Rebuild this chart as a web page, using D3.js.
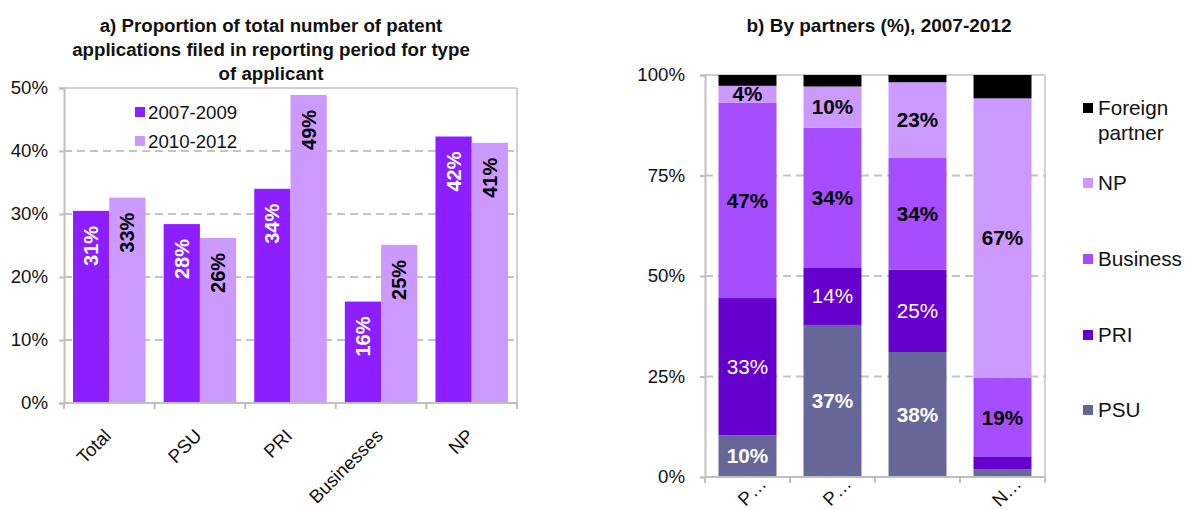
<!DOCTYPE html>
<html>
<head>
<meta charset="utf-8">
<script src="https://cdn.jsdelivr.net/npm/d3@7"></script>
<style>
  html, body { margin: 0; padding: 0; background: #fff; }
  svg { display: block; font-family: "Liberation Sans", Arial, sans-serif; }
</style>
</head>
<body>
<svg id="chart" width="1185" height="510"></svg>
<script>
// ---------- Panel a data ----------
const catsA = ["Total", "PSU", "PRI", "Businesses", "NP"];
const seriesA = ["2007-2009", "2010-2012"];
const vals2007_2009 = [30.5, 28.4, 34.0, 16.1, 42.3];
const vals2010_2012 = [32.6, 26.2, 48.9, 25.1, 41.3];
const ticksA = [0, 10, 20, 30, 40, 50];
const titleA = ["a) Proportion of total number of patent", "applications filed in reporting period for type", "of applicant"];

// ---------- Panel b data (raw shares, drawn as 100% stacks) ----------
const catsB = ["P\u2026", "P\u2026", "", "N\u2026"];
const seriesB = ["PSU", "PRI", "Business", "NP", "Foreign partner"];
const psuVals = [10, 37, 38, 1.8];
const priVals = [33, 14, 25, 3.0];
const businessVals = [47, 34, 34, 19];
const npVals = [4, 10, 23, 67];
const foreignVals = [2.6, 2.8, 2.2, 5.6];
const ticksB = [0, 25, 50, 75, 100];
const titleB = "b) By partners (%), 2007-2012";

const colA = { "2007-2009": "#8C1EFF", "2010-2012": "#CC99FF" };
const colB = { "PSU": "#666699", "PRI": "#6600CC", "Business": "#A64DFF", "NP": "#CC99FF", "Foreign partner": "#000000" };
const axisCol = "#BFBFBF";
const gridCol = "#C4C4C4";
const FONT = 18.67;

const svg = d3.select("#chart");

// ================= Panel a =================
{
  const left = 64, right = 517, top = 88, bottom = 403;
  const x = d3.scaleBand().domain(catsA).range([left, right]).paddingInner(0.2).paddingOuter(0.1);
  const xs = d3.scaleBand().domain(seriesA).range([0, x.bandwidth()]).padding(0);
  const y = d3.scaleLinear().domain([0, 50]).range([bottom, top]);
  const g = svg.append("g");

  // title
  g.append("text").attr("x", 271).attr("y", 32).attr("text-anchor", "middle")
    .style("font-weight", "bold").style("font-size", "18.7px").attr("fill", "#111")
    .selectAll("tspan").data(titleA).join("tspan")
    .attr("x", 271).attr("dy", (d, i) => i === 0 ? 0 : 24).text(d => d);

  // gridlines
  g.append("g").selectAll("line").data(ticksA.filter(t => t > 0 && t < 50)).join("line")
    .attr("x1", left).attr("x2", right).attr("y1", d => y(d)).attr("y2", d => y(d))
    .attr("stroke", gridCol).attr("stroke-width", 2).attr("stroke-dasharray", "8,5");
  // frame top & right
  g.append("line").attr("x1", left).attr("x2", right).attr("y1", y(50)).attr("y2", y(50))
    .attr("stroke", "#D0D0D0").attr("stroke-width", 2);
  g.append("line").attr("x1", right).attr("x2", right).attr("y1", top).attr("y2", bottom)
    .attr("stroke", "#D0D0D0").attr("stroke-width", 2);

  // y axis
  const ya = d3.axisLeft(y).tickValues(ticksA).tickFormat(d => d + "%").tickSize(5).tickPadding(11);
  const yg = g.append("g").attr("transform", `translate(${left},0)`).call(ya);
  yg.select(".domain").attr("stroke", axisCol).attr("stroke-width", 2);
  yg.selectAll(".tick line").attr("stroke", axisCol).attr("stroke-width", 2);
  yg.selectAll(".tick text").style("font-size", FONT + "px").attr("fill", "#111");

  // bars
  const rows = catsA.map((c, i) => ({ cat: c, vals: [vals2007_2009[i], vals2010_2012[i]] }));
  const grp = g.append("g").selectAll("g").data(rows).join("g")
    .attr("transform", d => `translate(${x(d.cat)},0)`);
  grp.selectAll("rect").data(d => d.vals.map((v, j) => ({ s: seriesA[j], v }))).join("rect")
    .attr("x", d => xs(d.s)).attr("width", xs.bandwidth())
    .attr("y", d => y(d.v)).attr("height", d => y(0) - y(d.v))
    .attr("fill", d => colA[d.s]);
  grp.selectAll("text").data(d => d.vals.map((v, j) => ({ s: seriesA[j], v }))).join("text")
    .attr("transform", d => `translate(${xs(d.s) + xs.bandwidth() / 2},${y(d.v) + 15}) rotate(-90)`)
    .attr("text-anchor", "end").attr("dominant-baseline", "central")
    .style("font-weight", "bold").style("font-size", "20px")
    .attr("fill", d => d.s === "2007-2009" ? "#fff" : "#000")
    .text(d => Math.round(d.v) + "%");

  // x axis
  g.append("line").attr("x1", left).attr("x2", right).attr("y1", bottom).attr("y2", bottom)
    .attr("stroke", axisCol).attr("stroke-width", 2);
  const bounds = d3.range(catsA.length + 1).map(i => left + i * x.step());
  g.append("g").selectAll("line").data(bounds).join("line")
    .attr("x1", d => d).attr("x2", d => d).attr("y1", bottom).attr("y2", bottom + 6)
    .attr("stroke", axisCol).attr("stroke-width", 2);
  g.append("g").selectAll("text").data(catsA).join("text")
    .attr("transform", d => `translate(${x(d) + x.bandwidth() / 2 + 3},${bottom + 34}) rotate(-45)`)
    .attr("text-anchor", "end").style("font-size", FONT + "px").attr("fill", "#111")
    .text(d => d);

  // legend
  const lg = g.append("g").selectAll("g").data(seriesA).join("g")
    .attr("transform", (d, i) => `translate(135,${112 + i * 29})`);
  lg.append("rect").attr("x", 0).attr("y", -5).attr("width", 10).attr("height", 10).attr("fill", d => colA[d]);
  lg.append("text").attr("x", 13).attr("dy", "0.35em").style("font-size", FONT + "px").attr("fill", "#111").text(d => d);
}

// ================= Panel b =================
{
  const left = 705, right = 1045, top = 75, bottom = 477;
  const idx = d3.range(catsB.length);
  const x = d3.scaleBand().domain(idx).range([left, right]).paddingInner(0.318).paddingOuter(0.159);
  const y = d3.scaleLinear().domain([0, 1]).range([bottom, top]);
  const g = svg.append("g");

  g.append("text").attr("x", 879).attr("y", 32).attr("text-anchor", "middle")
    .style("font-weight", "bold").style("font-size", "19px").attr("fill", "#111").text(titleB);

  const table = idx.map(i => ({
    i, "PSU": psuVals[i], "PRI": priVals[i], "Business": businessVals[i], "NP": npVals[i], "Foreign partner": foreignVals[i]
  }));
  const stacked = d3.stack().keys(seriesB).offset(d3.stackOffsetExpand)(table);

  // gridlines
  g.append("g").selectAll("line").data(ticksB.filter(t => t > 0 && t < 100)).join("line")
    .attr("x1", left).attr("x2", right).attr("y1", d => y(d / 100)).attr("y2", d => y(d / 100))
    .attr("stroke", gridCol).attr("stroke-width", 2).attr("stroke-dasharray", "8,5");
  g.append("line").attr("x1", left).attr("x2", right).attr("y1", top).attr("y2", top)
    .attr("stroke", "#D0D0D0").attr("stroke-width", 2);
  g.append("line").attr("x1", right).attr("x2", right).attr("y1", top).attr("y2", bottom)
    .attr("stroke", "#D0D0D0").attr("stroke-width", 2);

  const ya = d3.axisLeft(y).tickValues(ticksB.map(t => t / 100)).tickFormat(d => Math.round(d * 100) + "%").tickSize(5).tickPadding(15);
  const yg = g.append("g").attr("transform", `translate(${left},0)`).call(ya);
  yg.select(".domain").attr("stroke", axisCol).attr("stroke-width", 2);
  yg.selectAll(".tick line").attr("stroke", axisCol).attr("stroke-width", 2);
  yg.selectAll(".tick text").style("font-size", FONT + "px").attr("fill", "#111");

  const layers = g.append("g").selectAll("g").data(stacked).join("g").attr("fill", d => colB[d.key]);
  layers.selectAll("rect").data(d => d).join("rect")
    .attr("x", d => x(d.data.i)).attr("width", x.bandwidth())
    .attr("y", d => y(d[1])).attr("height", d => y(d[0]) - y(d[1]));

  const labelStyle = {
    "PSU": { fill: "#fff", weight: "bold" },
    "PRI": { fill: "#fff", weight: "normal" },
    "Business": { fill: "#000", weight: "bold" },
    "NP": { fill: "#000", weight: "bold" }
  };
  const lab = [];
  stacked.forEach(layer => {
    if (!labelStyle[layer.key]) return;
    layer.forEach(d => {
      const h = y(d[0]) - y(d[1]);
      if (h < 15) return;
      lab.push({ key: layer.key, cx: x(d.data.i) + x.bandwidth() / 2, cy: (y(d[0]) + y(d[1])) / 2, v: d.data[layer.key] });
    });
  });
  g.append("g").selectAll("text").data(lab).join("text")
    .attr("x", d => d.cx).attr("y", d => d.cy).attr("dy", "0.35em").attr("text-anchor", "middle")
    .style("font-size", "20.7px").style("font-weight", d => labelStyle[d.key].weight)
    .attr("fill", d => labelStyle[d.key].fill).text(d => Math.round(d.v) + "%");

  g.append("line").attr("x1", left).attr("x2", right).attr("y1", bottom).attr("y2", bottom)
    .attr("stroke", axisCol).attr("stroke-width", 2);
  const bounds = d3.range(catsB.length + 1).map(i => left + i * x.step());
  g.append("g").selectAll("line").data(bounds).join("line")
    .attr("x1", d => d).attr("x2", d => d).attr("y1", bottom).attr("y2", bottom + 6)
    .attr("stroke", axisCol).attr("stroke-width", 2);
  g.append("g").selectAll("text").data(idx).join("text")
    .attr("transform", i => `translate(${x(i) + x.bandwidth() / 2 + 20},${bottom + 8}) rotate(-45)`)
    .attr("text-anchor", "end").style("font-size", FONT + "px").attr("fill", "#111")
    .text(i => catsB[i]);

  // legend (top to bottom: reverse of stack)
  const legItems = seriesB.slice().reverse();
  const legY = [108, 183, 259, 335, 410];
  const lg = g.append("g").selectAll("g").data(legItems).join("g")
    .attr("transform", (d, i) => `translate(1083,${legY[i]})`);
  lg.append("rect").attr("x", 0).attr("y", -5).attr("width", 10).attr("height", 10).attr("fill", d => colB[d]);
  lg.append("text").attr("x", 15).attr("dy", "0.35em").style("font-size", "20.7px").attr("fill", "#111")
    .selectAll("tspan").data(d => d === "Foreign partner" ? ["Foreign", "partner"] : [d]).join("tspan")
    .attr("x", 15).attr("dy", (d, i) => i === 0 ? "0.35em" : "1.2em").text(d => d);
}
</script>
</body>
</html>
